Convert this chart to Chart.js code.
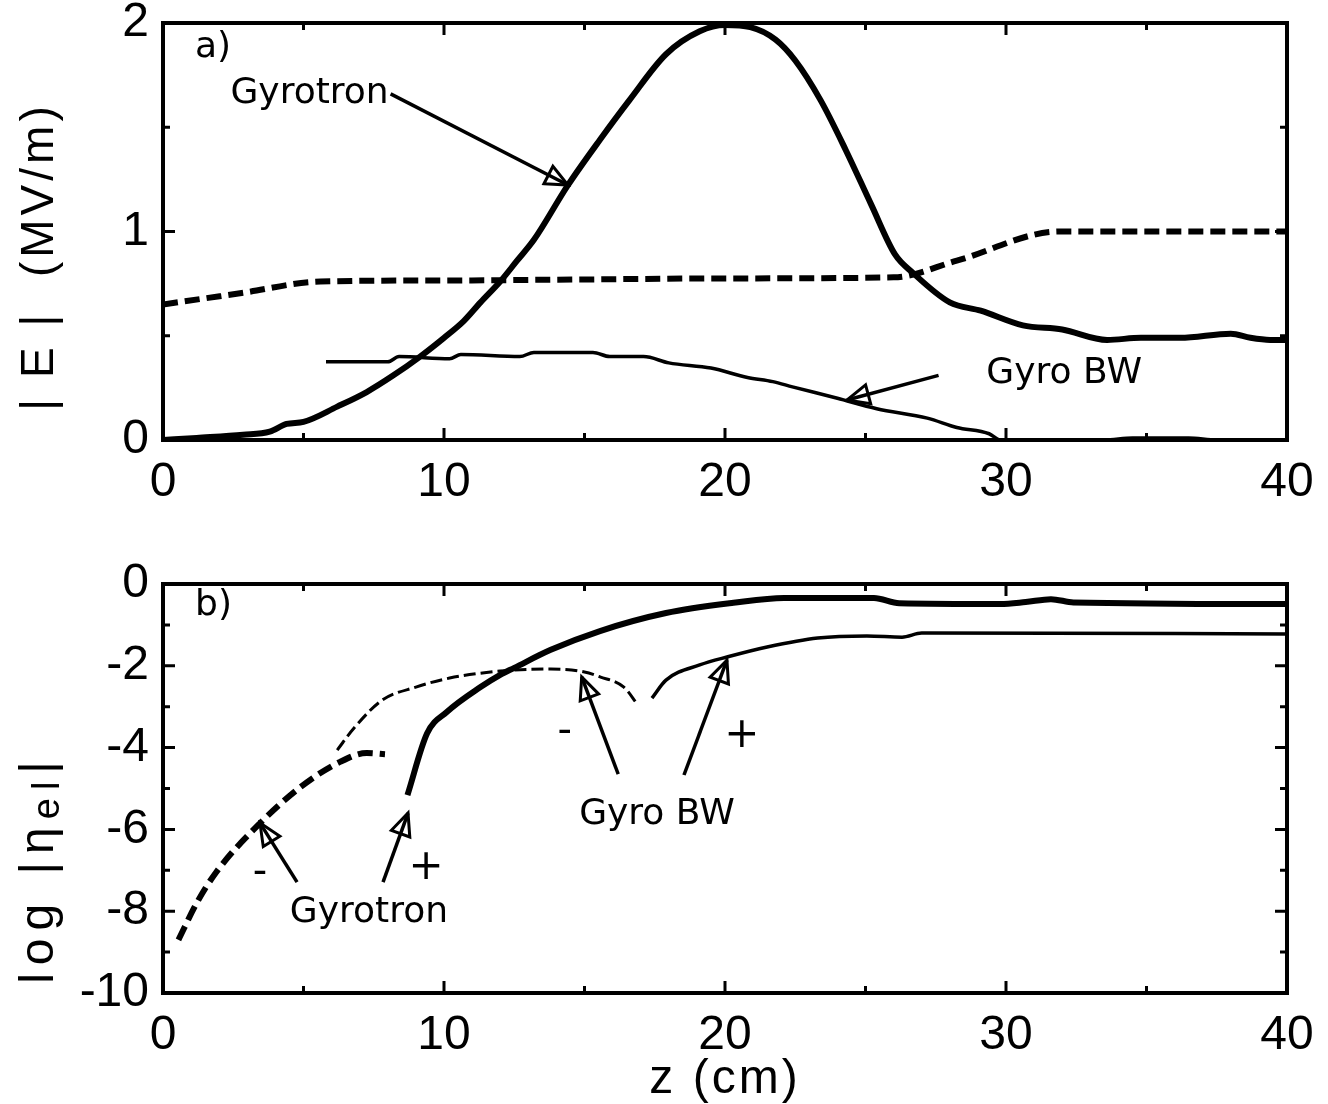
<!DOCTYPE html>
<html>
<head>
<meta charset="utf-8">
<script src="https://cdn.jsdelivr.net/npm/chart.js@4.4.1/dist/chart.umd.min.js"></script>
<style>
  html, body { margin: 0; background: #fff; }
  #wrap { position: relative; width: 1328px; height: 1104px; overflow: hidden; }
  .panel { position: absolute; left: 0; width: 1328px; }
  #top { top: 0; height: 540px; }
  #bot { top: 540px; height: 564px; }
</style>
</head>
<body>
<div id="wrap">
  <div class="panel" id="top"><canvas id="chartTop"></canvas></div>
  <div class="panel" id="bot"><canvas id="chartBot"></canvas></div>
</div>
<script>
// ---- panel a) |E| vs z ----
const zGyrotronA = [0, 1.2, 2.85, 3.8, 4.4, 5.0, 6.2, 7.25, 8.2, 9.15, 10.0, 10.7, 11.3, 12.0, 12.6, 13.2, 14.4, 15.55, 16.6, 17.9, 19.1, 20.0, 20.9, 21.8, 22.5, 23.4, 24.3, 25.2, 26.05, 26.7, 28.0, 29.1, 30.6, 32.0, 33.6, 34.8, 36.2, 38.0, 38.7, 39.4, 40];
const eGyrotronA = [0, 0.01, 0.025, 0.04, 0.077, 0.087, 0.16, 0.23, 0.31, 0.40, 0.49, 0.57, 0.66, 0.76, 0.86, 0.96, 1.22, 1.44, 1.63, 1.85, 1.96, 1.99, 1.98, 1.92, 1.82, 1.63, 1.39, 1.13, 0.89, 0.80, 0.66, 0.62, 0.55, 0.53, 0.48, 0.49, 0.49, 0.51, 0.49, 0.48, 0.48];

const zFieldA = [0, 2.8, 5.6, 10, 15, 20, 26, 28.25, 31.9, 40];
const eFieldA = [0.65, 0.705, 0.76, 0.765, 0.77, 0.775, 0.78, 0.86, 1.0, 1.0];

const zGyroBwA = [5.8, 8.0, 8.4, 10.2, 10.6, 12.7, 13.2, 15.3, 15.9, 17.1, 18.0, 19.5, 20.8, 21.7, 22.4, 24.0, 25.4, 27.2, 28.25, 29.4, 29.8, 33.5, 34.5, 36.5, 37.5, 40];
const eGyroBwA = [0.375, 0.375, 0.40, 0.39, 0.41, 0.40, 0.42, 0.42, 0.40, 0.40, 0.37, 0.345, 0.30, 0.28, 0.255, 0.20, 0.15, 0.105, 0.06, 0.03, 0, 0, 0.01, 0.01, 0, 0];

// ---- panel b) log|eta_el| vs z ----
const zGyrotronMinus = [0.55, 1.2, 1.9, 3.45, 4.9, 6.3, 7.25, 7.9];
const etaGyrotronMinus = [-8.7, -7.8, -7.04, -5.85, -4.96, -4.35, -4.13, -4.16];

const zGyrotronPlus = [8.7, 9.4, 10.1, 11.3, 12.0, 12.5, 13.8, 15.55, 17.9, 20.3, 22.1, 25.3, 26.2, 29.8, 30.7, 31.6, 32.4, 40];
const etaGyrotronPlus = [-5.16, -3.65, -3.13, -2.52, -2.22, -2.05, -1.61, -1.15, -0.71, -0.46, -0.34, -0.34, -0.47, -0.49, -0.44, -0.37, -0.45, -0.49];

const zGyroBwMinus = [6.2, 6.8, 7.8, 9.0, 10.2, 12.0, 13.8, 15.0, 15.55, 16.4, 16.9];
const etaGyroBwMinus = [-4.06, -3.52, -2.84, -2.52, -2.3, -2.13, -2.08, -2.15, -2.27, -2.52, -2.96];

const zGyroBwPlus = [17.4, 17.9, 19.1, 20.1, 21.5, 23.3, 25.05, 26.3, 27.0, 40];
const etaGyroBwPlus = [-2.79, -2.35, -1.98, -1.78, -1.54, -1.32, -1.27, -1.3, -1.2, -1.22];

// ticks
const xMajor = [0, 10, 20, 30, 40];
const xMinor = [5, 15, 25, 35];
const yMajorA = [0, 1, 2];
const yMinorA = [0.5, 1.5];
const yMajorB = [0, -2, -4, -6, -8, -10];
const yMinorB = [-1, -3, -5, -7, -9];

const pts = (xs, ys) => xs.map((x, i) => ({ x: x, y: ys[i] }));

const tickFont = { family: "'Liberation Sans', Arial, sans-serif", size: 48 };
const noteFont = "36px 'DejaVu Sans', sans-serif";

function line(data, width, dash) {
  return {
    data: data,
    borderColor: '#000',
    borderWidth: width,
    borderDash: dash || [],
    pointRadius: 0,
    fill: false,
    cubicInterpolationMode: 'monotone',
    borderCapStyle: 'butt',
    borderJoinStyle: 'round'
  };
}

function drawArrow(ctx, x0, y0, x1, y1) {
  ctx.lineWidth = 3.5;
  ctx.beginPath();
  ctx.moveTo(x0, y0);
  ctx.lineTo(x1, y1);
  ctx.stroke();
  const a = Math.atan2(y1 - y0, x1 - x0), L = 24, w = 0.42;
  ctx.lineWidth = 3;
  ctx.beginPath();
  ctx.moveTo(x1 - L * Math.cos(a - w), y1 - L * Math.sin(a - w));
  ctx.lineTo(x1, y1);
  ctx.lineTo(x1 - L * Math.cos(a + w), y1 - L * Math.sin(a + w));
  ctx.closePath();
  ctx.stroke();
}

// frame, inward ticks, notes and axis titles
const decor = {
  id: 'decor',
  afterDraw(chart) {
    const o = chart.options.plugins.decor;
    const { ctx, chartArea: a, scales } = chart;
    const sx = scales.x, sy = scales.y;
    ctx.save();
    ctx.strokeStyle = '#000';
    ctx.fillStyle = '#000';
    ctx.lineCap = 'butt';
    ctx.lineWidth = 4;
    ctx.strokeRect(a.left, a.top, a.right - a.left, a.bottom - a.top);

    ctx.lineWidth = 3;
    const tx = (vals, len) => vals.forEach(v => {
      const p = sx.getPixelForValue(v);
      ctx.beginPath();
      ctx.moveTo(p, a.bottom); ctx.lineTo(p, a.bottom - len);
      ctx.moveTo(p, a.top); ctx.lineTo(p, a.top + len);
      ctx.stroke();
    });
    const ty = (vals, len) => vals.forEach(v => {
      const p = sy.getPixelForValue(v);
      ctx.beginPath();
      ctx.moveTo(a.left, p); ctx.lineTo(a.left + len, p);
      ctx.moveTo(a.right, p); ctx.lineTo(a.right - len, p);
      ctx.stroke();
    });
    tx(xMajor, 12); tx(xMinor, 7);
    ty(o.yMajor, 12); ty(o.yMinor, 7);

    // notes
    ctx.textBaseline = 'middle';
    o.notes.forEach(n => {
      ctx.font = n.font || noteFont;
      ctx.textAlign = n.align || 'left';
      ctx.fillText(n.text, sx.getPixelForValue(n.x), sy.getPixelForValue(n.y));
    });
    o.arrows.forEach(r => drawArrow(ctx,
      sx.getPixelForValue(r[0]), sy.getPixelForValue(r[1]),
      sx.getPixelForValue(r[2]), sy.getPixelForValue(r[3])));

    // y title (rotated)
    ctx.translate(40, (a.top + a.bottom) / 2 + o.yTitleShift);
    ctx.rotate(-Math.PI / 2);
    ctx.textAlign = 'left';
    ctx.textBaseline = 'middle';
    ctx.letterSpacing = o.yTitleSpacing;
    const parts = o.yTitle;
    let total = 0;
    parts.forEach(p => { ctx.font = p.font; total += ctx.measureText(p.text).width; });
    let x = -total / 2;
    parts.forEach(p => {
      ctx.font = p.font;
      ctx.fillText(p.text, x, p.dy || 0);
      x += ctx.measureText(p.text).width;
    });
    ctx.restore();

    if (o.xTitle) {
      ctx.save();
      ctx.font = "48px 'Liberation Sans', Arial, sans-serif";
      ctx.letterSpacing = '3px';
      ctx.textAlign = 'center';
      ctx.textBaseline = 'alphabetic';
      ctx.fillText(o.xTitle, (a.left + a.right) / 2, a.bottom + 100);
      ctx.restore();
    }
  }
};

function makeChart(id, datasets, yMin, yMax, yStep, xAxisHeight, padTop, deco) {
  return new Chart(document.getElementById(id), {
    type: 'line',
    data: { datasets: datasets },
    options: {
      responsive: true,
      maintainAspectRatio: false,
      animation: false,
      devicePixelRatio: 1,
      layout: { padding: { top: padTop, right: 41, bottom: 0, left: 0 } },
      plugins: { legend: { display: false }, tooltip: { enabled: false }, decor: deco },
      scales: {
        x: {
          type: 'linear', min: 0, max: 40,
          ticks: { stepSize: 10, color: '#000', font: tickFont, padding: 14, maxRotation: 0, autoSkip: false },
          grid: { display: false, drawTicks: false },
          border: { display: false },
          afterFit(s) { s.height = xAxisHeight; s.paddingLeft = 0; s.paddingRight = 0; }
        },
        y: {
          type: 'linear', min: yMin, max: yMax,
          ticks: { stepSize: yStep, color: '#000', font: tickFont, padding: 14, autoSkip: false },
          grid: { display: false, drawTicks: false },
          border: { display: false },
          afterFit(s) { s.width = 163; s.paddingTop = 0; s.paddingBottom = 0; }
        }
      }
    },
    plugins: [decor]
  });
}

const titleFont = "46px 'Liberation Sans', Arial, sans-serif";
const logFont = "48px 'Liberation Sans', Arial, sans-serif";
const subFont = "38px 'Liberation Sans', Arial, sans-serif";

makeChart('chartTop', [
  line(pts(zGyrotronA, eGyrotronA), 6),
  line(pts(zFieldA, eFieldA), 6, [15, 7]),
  line(pts(zGyroBwA, eGyroBwA), 3.5)
], 0, 2, 1, 100, 23, {
  yMajor: yMajorA, yMinor: yMinorA,
  notes: [
    { text: 'a)', x: 1.14, y: 1.88, font: "36px 'DejaVu Sans', sans-serif" },
    { text: 'Gyrotron', x: 2.4, y: 1.66 },
    { text: 'Gyro BW', x: 29.3, y: 0.32 }
  ],
  arrows: [
    [8.1, 1.66, 14.41, 1.223],
    [27.6, 0.31, 24.34, 0.192]
  ],
  yTitle: [{ text: '| E |  (MV/m)', font: titleFont }],
  yTitleSpacing: '4px',
  yTitleShift: 25
});

makeChart('chartBot', [
  line(pts(zGyrotronMinus, etaGyrotronMinus), 6, [15, 7]),
  line(pts(zGyrotronPlus, etaGyrotronPlus), 6),
  line(pts(zGyroBwMinus, etaGyroBwMinus), 3, [12, 5]),
  line(pts(zGyroBwPlus, etaGyroBwPlus), 3.5)
], -10, 0, 2, 111, 44, {
  yMajor: yMajorB, yMinor: yMinorB,
  notes: [
    { text: 'b)', x: 1.14, y: -0.54, font: "36px 'DejaVu Sans', sans-serif" },
    { text: '-', x: 14.3, y: -3.64, align: 'center', font: "40px 'DejaVu Sans', sans-serif" },
    { text: '+', x: 20.6, y: -3.72, align: 'center', font: "42px 'DejaVu Sans', sans-serif" },
    { text: 'Gyro BW', x: 17.58, y: -5.65, align: 'center' },
    { text: '-', x: 3.45, y: -7.07, align: 'center', font: "40px 'DejaVu Sans', sans-serif" },
    { text: '+', x: 9.36, y: -6.94, align: 'center', font: "42px 'DejaVu Sans', sans-serif" },
    { text: 'Gyrotron', x: 7.33, y: -8.04, align: 'center' }
  ],
  arrows: [
    [16.2, -4.65, 14.9, -2.27],
    [18.54, -4.67, 20.07, -1.86],
    [4.77, -7.29, 3.45, -5.84],
    [7.83, -7.29, 8.72, -5.6]
  ],
  yTitle: [
    { text: 'log |\u03B7', font: logFont },
    { text: 'el', font: subFont, dy: 9 },
    { text: '|', font: logFont }
  ],
  yTitleSpacing: '8px',
  yTitleShift: 80,
  xTitle: 'z (cm)'
});
</script>
</body>
</html>
